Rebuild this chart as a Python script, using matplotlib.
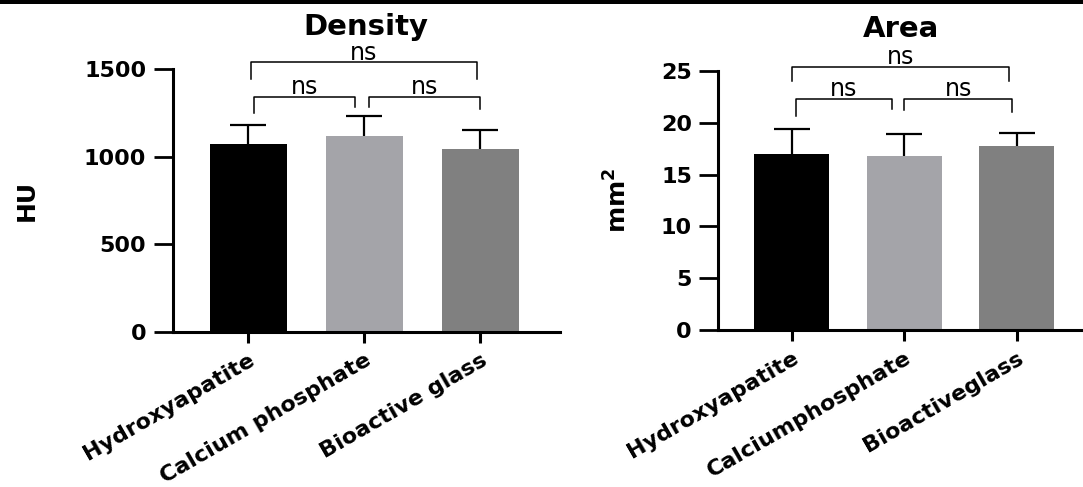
import matplotlib
matplotlib.use('Agg')
import matplotlib.pyplot as plt
from matplotlib.patches import Rectangle

# ---------------- data ----------------
density_categories = ["Hydroxyapatite", "Calcium phosphate", "Bioactive glass"]
density_mean = [1072, 1117, 1045]
density_sd = [106, 113, 107]
density_ticks = [0, 500, 1000, 1500]

area_categories = ["Hydroxyapatite", "Calciumphosphate", "Bioactiveglass"]
area_mean = [17.0, 16.8, 17.8]
area_sd = [2.4, 2.1, 1.25]
area_ticks = [0, 5, 10, 15, 20, 25]

bar_colors = ["#000000", "#a4a4a9", "#808080"]
sig_label = "ns"
# comparison brackets: (group a, group b, bracket height, left leg end, right leg end)
density_brackets = [(0.02, 1.97, 1538, 1441, 1441),
                    (0.05, 0.92, 1342, 1249, 1283),
                    (1.04, 2.00, 1342, 1283, 1273)]
area_brackets = [(0.00, 1.93, 25.4, 24.0, 24.0),
                 (0.035, 0.89, 22.33, 20.7, 21.3),
                 (1.00, 1.96, 22.33, 21.24, 21.07)]

W, H = 1083, 487
fig = plt.figure(figsize=(W / 100, H / 100), dpi=100)
fig.add_artist(Rectangle((0, 1 - 4 / H), 1, 4 / H, transform=fig.transFigure,
                         facecolor='black', edgecolor='none'))


def panel(rect, cats, means, sds, ticks, ylim, xlim, title, ylabel, brackets,
          label_x, title_pad):
    ax = fig.add_axes(rect)
    x = list(range(len(cats)))
    ax.bar(x, means, width=0.665, color=bar_colors, zorder=2)
    eb = ax.errorbar(x, means, yerr=[[0] * len(sds), sds], fmt='none',
                     ecolor='black', elinewidth=1.6, capsize=13, capthick=1.6,
                     zorder=3)
    # keep only the upper caps (GraphPad style)
    for cl in eb[1]:
        if list(cl.get_ydata()) == list(means):
            cl.set_visible(False)
    ax.set_xlim(*xlim)
    ax.set_ylim(*ylim)
    ax.set_yticks(ticks)
    ax.set_xticks(x)
    ax.set_xticklabels(cats, rotation=30, ha='right', rotation_mode='anchor',
                       fontsize=16, fontweight='bold')
    for lab in ax.get_yticklabels():
        lab.set_fontsize(16)
        lab.set_fontweight('bold')
    for s in ['top', 'right']:
        ax.spines[s].set_visible(False)
    for s in ['left', 'bottom']:
        ax.spines[s].set_linewidth(2.2)
    ax.tick_params(axis='y', length=14, width=2, pad=5)
    ax.tick_params(axis='x', length=8, width=2.2, pad=5)
    ax.set_title(title, fontsize=21, fontweight='bold', pad=title_pad)
    ax.set_ylabel(ylabel, fontsize=18, fontweight='bold')
    ax.yaxis.set_label_coords(label_x, 0.5)
    for (a, b, y, yl, yr) in brackets:
        ax.plot([a, a, b, b], [yl, y, y, yr], color='black', lw=1.1,
                clip_on=False, zorder=4)
        ax.annotate(sig_label, xy=((a + b) / 2, y), xytext=(0, 2),
                    textcoords='offset points', ha='center', va='baseline',
                    fontsize=17, annotation_clip=False)
    return ax


panel([172.7 / W, 1 - 331.7 / H, (560 - 172.7) / W, (331.7 - 69) / H],
      density_categories, density_mean, density_sd, density_ticks, (0, 1500),
      (-0.654, 2.69), "Density", "HU", density_brackets, -0.345, 24.5)

panel([718.3 / W, 1 - 330 / H, (1083 - 718.3) / W, (330 - 71) / H],
      area_categories, area_mean, area_sd, area_ticks, (0, 25),
      (-0.652, 2.589), "Area", r"mm$^{\mathbf{2}}$", area_brackets, -0.237, 24.3)

fig.savefig("out.png", dpi=100)
